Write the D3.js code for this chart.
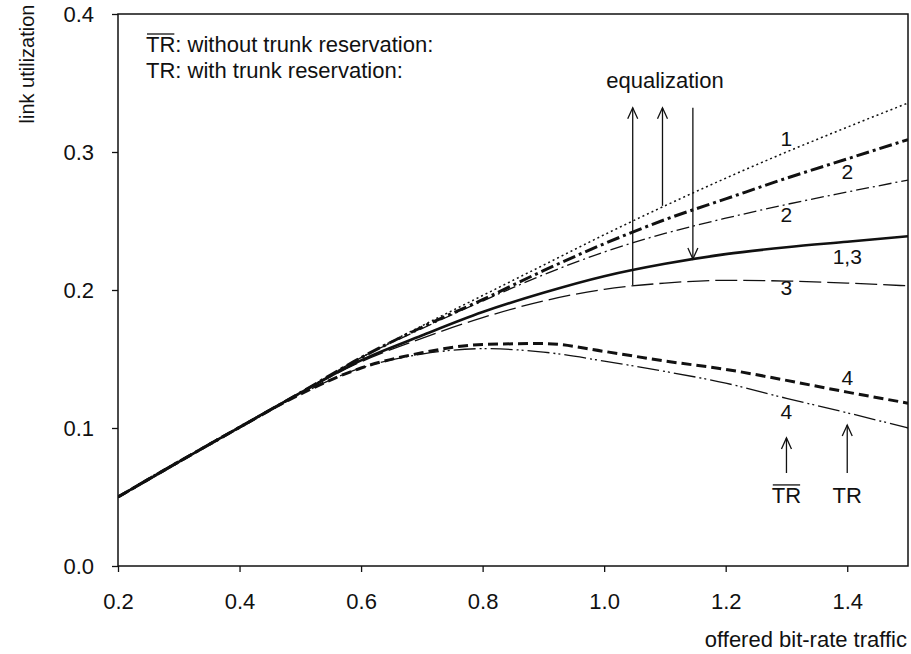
<!DOCTYPE html>
<html>
<head>
<meta charset="utf-8">
<script src="https://cdn.jsdelivr.net/npm/d3@7"></script>
<style>
  body { margin: 0; background: #fff; }
  text { font-family: "Liberation Sans", Arial, sans-serif; fill: #111; }
</style>
</head>
<body>
<svg id="chart" width="911" height="654"></svg>
<script>
// offered bit-rate traffic (x) shared by every curve
const traffic = [0.2, 0.3, 0.4, 0.5, 0.6, 0.7, 0.8, 0.9, 1.0, 1.1, 1.2, 1.3, 1.4, 1.5];

// link utilization per curve
const util1    = [0.050, 0.0755, 0.1005, 0.1255, 0.151, 0.174, 0.196, 0.218, 0.240, 0.261, 0.281, 0.300, 0.318, 0.3355];
const util2TR  = [0.050, 0.0755, 0.1005, 0.1255, 0.151, 0.173, 0.193, 0.214, 0.2335, 0.251, 0.266, 0.281, 0.295, 0.309];
const util2    = [0.050, 0.0755, 0.1005, 0.1255, 0.151, 0.172, 0.192, 0.211, 0.2275, 0.241, 0.252, 0.262, 0.271, 0.2797];
const util13   = [0.050, 0.0755, 0.1005, 0.1255, 0.149, 0.167, 0.184, 0.198, 0.210, 0.219, 0.226, 0.231, 0.235, 0.239];
const util3    = [0.050, 0.0755, 0.1005, 0.1255, 0.148, 0.165, 0.180, 0.192, 0.2005, 0.205, 0.207, 0.2065, 0.205, 0.203];
const util4TR  = [0.050, 0.0755, 0.1005, 0.1245, 0.1435, 0.1545, 0.1605, 0.1612, 0.1555, 0.1485, 0.1425, 0.1345, 0.126, 0.118];
const util4    = [0.050, 0.0755, 0.1005, 0.1245, 0.1435, 0.1535, 0.1575, 0.155, 0.1485, 0.141, 0.1325, 0.1215, 0.111, 0.100];

const xTicks = [0.2, 0.4, 0.6, 0.8, 1.0, 1.2, 1.4];
const yTicks = [0.0, 0.1, 0.2, 0.3, 0.4];

// curve labels (data coords)
const curveLabels = [
  {t: '1',   x: 1.3, y: 0.310},
  {t: '2',   x: 1.4, y: 0.2855},
  {t: '2',   x: 1.3, y: 0.2543},
  {t: '1,3', x: 1.4, y: 0.224},
  {t: '3',   x: 1.3, y: 0.2014},
  {t: '4',   x: 1.4, y: 0.1362},
  {t: '4',   x: 1.3, y: 0.1116}
];

// arrows: from -> to, head at "to"
const arrows = [
  {x: 1.047, from: 0.2036, to: 0.332},
  {x: 1.096, from: 0.261,  to: 0.332},
  {x: 1.146, from: 0.332,  to: 0.2225},
  {x: 1.3,   from: 0.0674, to: 0.0928},
  {x: 1.4,   from: 0.0674, to: 0.1022}
];

const svg = d3.select('#chart');
const mLeft = 118, mRight = 908, mTop = 14, mBottom = 566;

const x = d3.scaleLinear().domain([0.2, 1.5]).range([mLeft, mRight]);
const y = d3.scaleLinear().domain([0, 0.4]).range([mBottom, mTop]);

svg.append('defs').append('clipPath').attr('id', 'plot')
  .append('rect').attr('x', mLeft).attr('y', mTop).attr('width', mRight - mLeft).attr('height', mBottom - mTop);

// frame
svg.append('rect').attr('x', mLeft).attr('y', mTop).attr('width', mRight - mLeft).attr('height', mBottom - mTop)
  .attr('fill', 'none').attr('stroke', '#111').attr('stroke-width', 1.5);

// axes
let yAxis = svg.append('g').attr('transform', 'translate(' + mLeft + ',0)')
  .call(d3.axisLeft(y).tickValues(yTicks).tickFormat(d3.format('.1f')).tickSize(6).tickPadding(18));
let xAxis = svg.append('g').attr('transform', 'translate(0,' + mBottom + ')')
  .call(d3.axisBottom(x).tickValues(xTicks).tickFormat(d3.format('.1f')).tickSize(6).tickPadding(22));
[xAxis, yAxis].forEach(a => {
  a.select('.domain').remove();
  a.selectAll('line').attr('stroke', '#111').attr('stroke-width', 1.3);
  a.selectAll('text').style('font-size', '22px').attr('fill', '#111')
    .style('font-family', '"Liberation Sans", Arial, sans-serif');
});
yAxis.selectAll('text').attr('dy', '0.35em');
xAxis.selectAll('text').attr('dy', '0.68em');

// axis titles
svg.append('text').attr('transform', 'translate(34,64) rotate(-90)')
  .attr('text-anchor', 'middle').style('font-size', '20px').text('link utilization');
svg.append('text').attr('x', 907).attr('y', 647)
  .attr('text-anchor', 'end').style('font-size', '22px').text('offered bit-rate traffic');

// curves
const series = [
  {v: util1,   w: 1.5, dash: '2,3'},
  {v: util2TR, w: 3,   dash: '13,4,3,4'},
  {v: util2,   w: 1.3, dash: '13,4,2,4'},
  {v: util13,  w: 2.6, dash: null},
  {v: util3,   w: 1.3, dash: '22,6'},
  {v: util4TR, w: 3,   dash: '10,5'},
  {v: util4,   w: 1.3, dash: '22,4,2,3,2,4'}
];
const line = d3.line().x(d => x(d[0])).y(d => y(d[1])).curve(d3.curveMonotoneX);
const curves = svg.append('g').attr('clip-path', 'url(#plot)');
series.forEach(s => {
  curves.append('path')
    .datum(traffic.map((t, i) => [t, s.v[i]]))
    .attr('d', line)
    .attr('fill', 'none').attr('stroke', '#111')
    .attr('stroke-width', s.w)
    .attr('stroke-dasharray', s.dash);
});

// curve labels
svg.append('g').selectAll('text').data(curveLabels).enter().append('text')
  .attr('x', d => x(d.x)).attr('y', d => y(d.y)).attr('dy', '0.35em')
  .attr('text-anchor', 'middle').style('font-size', '21px').text(d => d.t);

// arrows
const arr = svg.append('g').attr('stroke', '#111').attr('stroke-width', 1.3).attr('fill', 'none');
arrows.forEach(a => {
  let x0 = x(a.x), y0 = y(a.from), y1 = y(a.to);
  let dir = y1 < y0 ? 1 : -1;
  arr.append('line').attr('x1', x0).attr('x2', x0).attr('y1', y0).attr('y2', y1);
  arr.append('path').attr('d', 'M' + (x0 - 5) + ',' + (y1 + dir * 11) + 'L' + x0 + ',' + y1 + 'L' + (x0 + 5) + ',' + (y1 + dir * 11));
});

svg.append('text').attr('x', x(1.1)).attr('y', 80).attr('dy', '0.35em')
  .attr('text-anchor', 'middle').style('font-size', '22px').text('equalization');

// TR labels with overline for "without"
function trText(g, px, py, anchor, str, over) {
  let t = g.append('text').attr('x', px).attr('y', py).attr('text-anchor', anchor).style('font-size', '22px');
  let trSpan = t.append('tspan').text('TR');
  if (str) t.append('tspan').text(str);
  if (over) {
    let bb = trSpan.node().getBBox();
    g.append('line').attr('x1', bb.x + 1).attr('x2', bb.x + bb.width - 1)
      .attr('y1', bb.y + 2).attr('y2', bb.y + 2).attr('stroke', '#111').attr('stroke-width', 1.3);
  }
}
const ann = svg.append('g');
trText(ann, 146, 52, 'start', ': without trunk reservation:', true);
trText(ann, 146, 78, 'start', ': with trunk reservation:', false);
trText(ann, x(1.3), y(0.0515) + 8, 'middle', null, true);
trText(ann, x(1.4), y(0.0515) + 8, 'middle', null, false);
</script>
</body>
</html>
